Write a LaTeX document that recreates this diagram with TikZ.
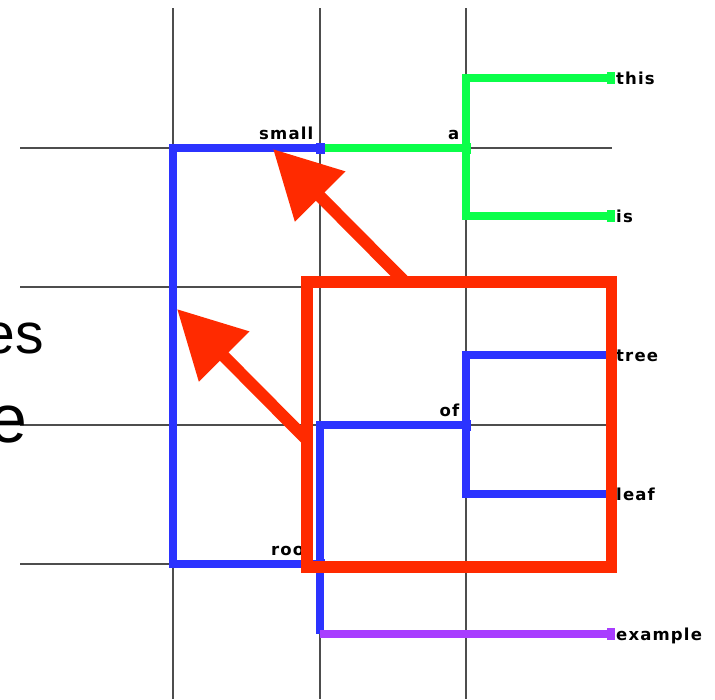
\documentclass[tikz,border=0pt]{standalone}
\usepackage{fontspec}
\usepackage{xcolor}
\usetikzlibrary{arrows.meta,positioning}
\newfontfamily\labelfont[LetterSpace=7]{DejaVu Sans Bold}
\newfontfamily\slidefont{Liberation Sans}
\definecolor{gridgray}{HTML}{4D4D4D}
\definecolor{treeblue}{HTML}{2B33FF}
\definecolor{treegreen}{HTML}{0BFF4A}
\definecolor{treepurple}{HTML}{A83DFF}
\definecolor{markred}{HTML}{FF2A00}
\tikzset{
    gridline/.style={draw=gridgray,line width=1.5pt},
    branch/.style={line width=8pt,line cap=butt,line join=miter},
    nodebox/.style={rectangle,inner sep=0pt,outer sep=0pt,
      minimum width=9pt,minimum height=11pt},
    leafbox/.style={nodebox,minimum width=8pt,minimum height=12pt},
    intlbl/.style={font=\labelfont\fontsize{16.5}{17}\selectfont,inner sep=0pt,
      anchor=base east,xshift=-2pt,yshift=3pt},
    leaflbl/.style={font=\labelfont\fontsize{16.5}{17}\selectfont,inner sep=0pt,
      anchor=base west,xshift=1pt,yshift=-6pt},
    focusbox/.style={draw=markred,line width=11.5pt,inner sep=0pt,outer sep=0pt,
      minimum width=304.5pt,minimum height=285pt},
    pointer/.style={draw=markred,line width=12pt,line cap=butt,
      -{Triangle[length=67pt,width=68pt]}},
    slidetxt/.style={inner sep=0pt,anchor=base east}
}

\begin{document}
\begin{tikzpicture}[x=1pt,y=-1pt]
  \useasboundingbox (0,0) rectangle (715,699);
  % grid
  \foreach \gx in {173,320,466}
    \draw[gridline] (\gx,8) -- (\gx,699);
  \foreach \gy in {148,287,425,564}
    \draw[gridline] (20,\gy) -- (612,\gy);
  % text of the slide behind
  \node[slidetxt,font=\slidefont\fontsize{57}{57}\selectfont] (es) at (44,353) {es};
  \node[slidetxt,font=\slidefont\fontsize{68}{68}\selectfont] (e) at (28,442) {e};
  % tree nodes
  \coordinate (base) at (173,356);
  \node[nodebox,fill=treeblue,label={[intlbl]north west:small}] (small) at (320,148) {};
  \node[nodebox,fill=treegreen,label={[intlbl]north west:a}] (a) at (466,148) {};
  \node[leafbox,fill=treegreen,label={[leaflbl]east:this}] (this) at (611,78) {};
  \node[leafbox,fill=treegreen,label={[leaflbl]east:is}] (is) at (611,216) {};
  \node[nodebox,fill=treeblue,label={[intlbl]north west:root}] (root) at (320,564) {};
  \node[nodebox,fill=treeblue,label={[intlbl]north west:of}] (of) at (466,425) {};
  \node[leafbox,fill=treeblue,label={[leaflbl]east:tree}] (tree) at (611,355) {};
  \node[leafbox,fill=treeblue,label={[leaflbl]east:leaf}] (leaf) at (611,494) {};
  \node[leafbox,fill=treepurple,label={[leaflbl]east:example}] (example) at (611,634) {};
  % branches
  \draw[branch,treeblue] (base) |- (small);
  \draw[branch,treeblue] (base) |- (root);
  \draw[branch,treegreen] (small) -- (a);
  \draw[branch,treegreen] (a) |- (this);
  \draw[branch,treegreen] (a) |- (is);
  \draw[branch,treeblue] (root) |- (of);
  \draw[branch,treeblue] (of) |- (tree);
  \draw[branch,treeblue] (of) |- (leaf);
  \draw[branch,treeblue] (root) -- (root |- example);
  \draw[branch,treepurple] (root |- example) -- (example);
  % highlighted subtree and where it goes
  \node[focusbox] (focus) at (459.25,424.5) {};
  \coordinate (from1) at ([xshift=98pt]focus.north west);
  \coordinate (from2) at ([yshift=-158pt]focus.north west);
  \coordinate (hit1) at (273,149);
  \coordinate (hit2) at (177,309);
  \draw[pointer] (from1) -- (hit1);
  \draw[pointer] (from2) -- (hit2);
\end{tikzpicture}
\end{document}
